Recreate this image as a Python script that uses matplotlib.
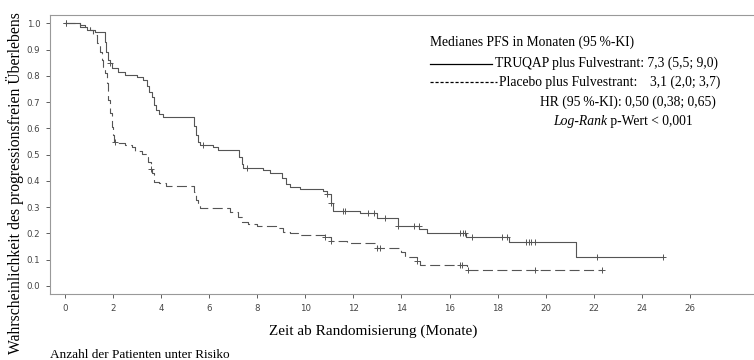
import numpy as np
from matplotlib import pyplot as plt
from matplotlib.lines import Line2D

# Kaplan-Meier steps (time in months, survival probability)
truqap_t = [0, 0.62, 0.9, 1.25, 1.66, 1.72, 1.8, 1.87, 1.96, 2.2, 2.5, 3.0, 3.25, 3.4, 3.5,
            3.6, 3.7, 3.8, 3.9, 4.08, 5.37, 5.45, 5.52, 5.6, 6.16, 6.37, 7.24, 7.35, 7.42,
            8.25, 8.53, 9.02, 9.2, 9.36, 9.78, 10.75, 10.92, 11.06, 11.17, 12.28, 13.0,
            13.87, 14.75, 15.05, 16.69, 18.49, 21.27, 24.9]
truqap_s = [1.0, 0.985, 0.975, 0.965, 0.93, 0.89, 0.86, 0.848, 0.83, 0.815, 0.805, 0.795,
            0.785, 0.76, 0.74, 0.72, 0.69, 0.67, 0.655, 0.642, 0.61, 0.575, 0.55, 0.537,
            0.528, 0.518, 0.49, 0.465, 0.448, 0.44, 0.429, 0.41, 0.39, 0.378, 0.368, 0.36,
            0.35, 0.317, 0.285, 0.277, 0.258, 0.228, 0.216, 0.2, 0.185, 0.169, 0.112, 0.112]
truqap_cens = [0.04, 1.87, 5.73, 7.56, 10.92, 11.06, 11.55, 11.65, 12.62, 12.86, 13.32,
               13.87, 14.54, 14.74, 16.44, 16.56, 16.64, 16.92, 18.2, 18.38, 19.18, 19.3,
               19.4, 19.55, 22.12, 24.9]

placebo_t = [0, 0.62, 0.83, 1.04, 1.18, 1.32, 1.46, 1.53, 1.6, 1.66, 1.74, 1.8, 1.87, 1.94,
             2.01, 2.05, 2.2, 2.5, 2.77, 2.91, 3.19, 3.4, 3.47, 3.58, 3.62, 3.72, 3.9, 4.2,
             5.37, 5.45, 5.55, 5.62, 5.83, 6.87, 7.2, 7.35, 7.62, 7.98, 8.8, 9.07, 9.36, 9.7,
             10.82, 11.06, 11.72, 12.97, 14.0, 14.15, 14.63, 14.77, 16.74, 22.33]
placebo_s = [1.0, 0.994, 0.987, 0.975, 0.955, 0.924, 0.892, 0.86, 0.835, 0.81, 0.772,
             0.708, 0.657, 0.606, 0.575, 0.549, 0.543, 0.537, 0.53, 0.515, 0.502, 0.492,
             0.473, 0.444, 0.429, 0.397, 0.391, 0.381, 0.359, 0.327, 0.308, 0.296, 0.296,
             0.28, 0.264, 0.245, 0.236, 0.228, 0.22, 0.207, 0.2, 0.194, 0.185, 0.172, 0.163,
             0.144, 0.131, 0.109, 0.096, 0.08, 0.061, 0.061]
placebo_cens = [0.04, 2.08, 3.58, 10.82, 11.06, 12.97, 13.1, 14.63, 16.44, 16.52, 16.77,
                19.56, 22.33]

x_ticks = list(range(0, 27, 2))
y_ticks = [round(0.1 * i, 1) for i in range(11)]

serif = 'Liberation Serif'
curve_col = '#555555'


def step_value(t, s, x):
    i = np.searchsorted(t, x, side='right') - 1
    return s[i]


fig = plt.figure(figsize=(7.54, 3.6), dpi=100)
ax = fig.add_axes([50 / 754, 1 - 294 / 360, 1 - 50 / 754, (294 - 15) / 360])

ax.step(truqap_t, truqap_s, where='post', color=curve_col, lw=0.8)
dashed, = ax.step(placebo_t, placebo_s, where='post', color=curve_col, lw=0.8)
dashed.set_dashes((9, 4))

ax.plot(truqap_cens, [step_value(truqap_t, truqap_s, c) for c in truqap_cens],
        ls='none', marker='+', ms=5, mew=0.7, color=curve_col)
ax.plot(placebo_cens, [step_value(placebo_t, placebo_s, c) for c in placebo_cens],
        ls='none', marker='+', ms=5, mew=0.7, color=curve_col)

ax.set_xlim(-0.624, 28.67)
ax.set_ylim(-0.0305, 1.0316)
ax.set_xticks(x_ticks)
ax.set_yticks(y_ticks)
ax.set_yticklabels(['%.1f' % v for v in y_ticks])
ax.tick_params(labelsize=6.2, colors='#444444', length=3, width=0.6, pad=4)

ax.spines['right'].set_visible(False)
for side in ['top', 'left', 'bottom']:
    ax.spines[side].set_color('#999999')
    ax.spines[side].set_linewidth(0.8)

ax.set_xlabel('Zeit ab Randomisierung (Monate)', family=serif, fontsize=11)
ax.xaxis.set_label_coords((373 - 50) / 704, -(331.7 - 294) / 279, transform=ax.transAxes)
ax.xaxis.label.set_va('center')
fig.text(15 / 754, 1 - 183 / 360, 'Wahrscheinlichkeit des progressionsfreien Überlebens',
         family=serif, fontsize=11.3, rotation=90, ha='center', va='center')
fig.text(50 / 754, 1 - 355 / 360, 'Anzahl der Patienten unter Risiko',
         family=serif, fontsize=9.5, ha='left', va='center')

# legend block
fs = 9.8
fig.text(430 / 754, 1 - 46 / 360, 'Medianes PFS in Monaten (95\u2009%-KI)',
         family=serif, fontsize=fs, ha='left', va='baseline')
fig.add_artist(Line2D([430 / 754, 492 / 754], [1 - 63.5 / 360] * 2, transform=fig.transFigure,
                      color='black', lw=0.9))
fig.text(495 / 754, 1 - 66.5 / 360, 'TRUQAP plus Fulvestrant: 7,3 (5,5; 9,0)',
         family=serif, fontsize=fs, ha='left', va='baseline')
leg_dash = Line2D([430 / 754, 497 / 754], [1 - 82 / 360] * 2, transform=fig.transFigure,
                  color='black', lw=0.9)
leg_dash.set_dashes((2.5, 1.5))
fig.add_artist(leg_dash)
fig.text(499 / 754, 1 - 86 / 360, 'Placebo plus Fulvestrant:',
         family=serif, fontsize=fs, ha='left', va='baseline')
fig.text(720 / 754, 1 - 86 / 360, '3,1 (2,0; 3,7)',
         family=serif, fontsize=fs, ha='right', va='baseline')
fig.text(716 / 754, 1 - 105.5 / 360, 'HR (95\u2009%-KI): 0,50 (0,38; 0,65)',
         family=serif, fontsize=fs, ha='right', va='baseline')
fig.text(607 / 754, 1 - 125 / 360, 'Log-Rank', family=serif, style='italic',
         fontsize=fs, ha='right', va='baseline')
fig.text(607 / 754, 1 - 125 / 360, ' p-Wert < 0,001', family=serif,
         fontsize=fs, ha='left', va='baseline')

fig.savefig('out.png', dpi=100)
